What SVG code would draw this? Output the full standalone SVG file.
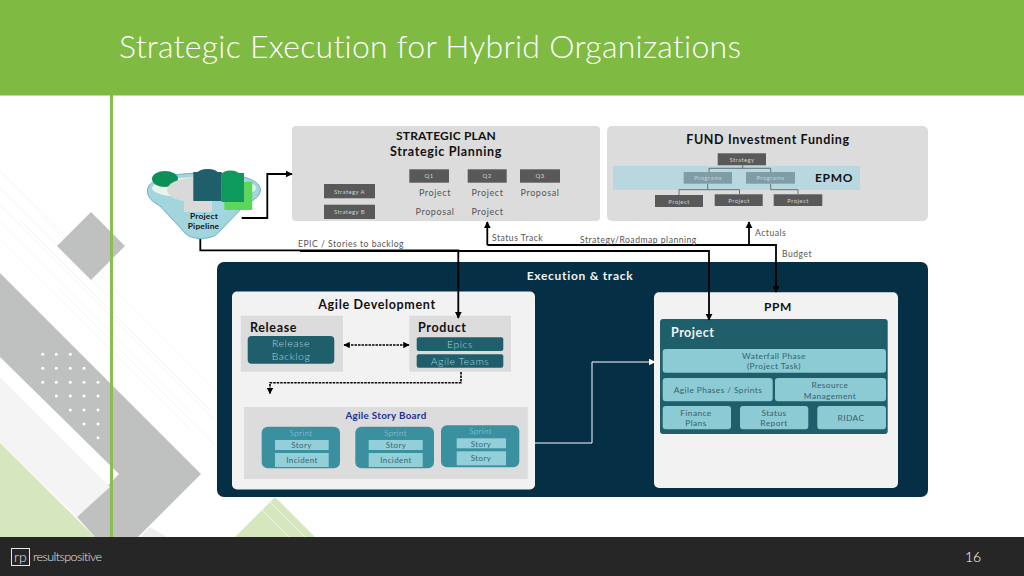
<svg xmlns="http://www.w3.org/2000/svg" width="1024" height="576" viewBox="0 0 1024 576">
<defs>
<style>
text{font-family:"Lato","Open Sans","Liberation Sans",sans-serif;font-variant-ligatures:none}
.m{text-anchor:middle}
.h{font-weight:700;fill:#111;letter-spacing:.65px}
.lbl{font-size:8.6px;fill:#555;letter-spacing:.5px}
.pl{fill:#dcdcdc}
.dk{fill:#595959}
.dkt{font-size:6px;fill:#cfcfcf;text-anchor:middle;letter-spacing:.4px}
.gt{font-size:9px;fill:#555;text-anchor:middle;letter-spacing:.6px}
.teal{fill:#1f5f6b}
.tt{fill:#a3d3da;text-anchor:middle;font-size:10.5px;letter-spacing:.5px;font-weight:300}
.sp{fill:#3a909f}
.in{fill:#92cfd9}
.spt{fill:#a9dae1;text-anchor:middle;font-size:8px;letter-spacing:.4px;font-weight:300}
.int{fill:#3a6670;text-anchor:middle;font-size:8px;letter-spacing:.4px}
.cell{fill:#8ccad4}
.ct{fill:#36646e;text-anchor:middle;font-size:8.4px;letter-spacing:.4px}
.c{fill:none;stroke:#000;stroke-width:1.8}
.d{fill:none;stroke:#000;stroke-width:1.6;stroke-dasharray:2.5 1}
.org{fill:none;stroke:#555;stroke-width:.8}
.dot{fill:#fff}
.st{stroke:#f4f4f4;stroke-width:1;fill:none}
</style>
<marker id="a" viewBox="0 0 10 10" refX="9" refY="5" markerWidth="4" markerHeight="4" orient="auto-start-reverse"><path d="M0 0L10 5L0 10z" fill="#000"/></marker>
<marker id="b" viewBox="0 0 10 10" refX="9" refY="5" markerWidth="4" markerHeight="4" orient="auto-start-reverse"><path d="M0 0L10 5L0 10z" fill="#000"/></marker>
<marker id="w" viewBox="0 0 10 10" refX="9" refY="5" markerWidth="7" markerHeight="7" orient="auto"><path d="M0 0L10 5L0 10z" fill="#fff"/></marker>
</defs>
<rect width="1024" height="576" fill="#fff"/>
<g id="background">
<path class="st" d="M0 205L190 395M0 222L190 412M0 239L190 429M20 220L210 410M40 215L230 405M60 290L215 445M0 188L110 298M0 171L110 281M120 325L215 420"/>
<polygon points="91,212 125,246 91,280 57,246" fill="#bfc1c1"/>
<polygon points="0,273 201,474 138,537 95,537 77,517 119,474 0,357" fill="#bfc1c1"/>
<polygon points="0,377 110,487 77,517 0,443" fill="#f4f4f4"/>
<polygon points="0,443 95,537 0,537" fill="#d7e7bd"/>
<polygon points="235,537 275,497 315,537" fill="#d7e7bd"/>
<path d="M262 510L289 537M270 502L305 537" stroke="#eef5e3" stroke-width="1" fill="none"/>
<polygon points="140,537 150,527 167,537" fill="#efefef"/>
<g class="dot">
<circle cx="42.7" cy="354.3" r="1.5"/><circle cx="56.3" cy="354.3" r="1.5"/><circle cx="70.3" cy="354.3" r="1.5"/>
<circle cx="42.7" cy="368.3" r="1.5"/><circle cx="56.3" cy="368.3" r="1.5"/><circle cx="70.3" cy="368.3" r="1.5"/><circle cx="84" cy="368.3" r="1.5"/>
<circle cx="42.7" cy="382.3" r="1.5"/><circle cx="56.3" cy="382.3" r="1.5"/><circle cx="70.3" cy="382.3" r="1.5"/><circle cx="84" cy="382.3" r="1.5"/><circle cx="98" cy="382.3" r="1.5"/>
<circle cx="56.3" cy="396" r="1.5"/><circle cx="70.3" cy="396" r="1.5"/><circle cx="84" cy="396" r="1.5"/><circle cx="98" cy="396" r="1.5"/>
<circle cx="70.3" cy="410" r="1.5"/><circle cx="84" cy="410" r="1.5"/><circle cx="98" cy="410" r="1.5"/>
<circle cx="84" cy="424" r="1.5"/><circle cx="98" cy="424" r="1.5"/>
<circle cx="98" cy="437.7" r="1.5"/>
</g>
<rect x="110" y="95" width="3" height="442" fill="#8cbd52"/>
</g>
<g id="header">
<rect width="1024" height="95.500" fill="#7fba42"/>
<text x="119" y="58" font-size="32" fill="#fff" textLength="622" style="font-weight:300">Strategic Execution for Hybrid Organizations</text>
</g>
<g id="footer">
<rect y="537" width="1024" height="39" fill="#262626"/>
<rect x="11.500" y="548.500" width="18" height="17" fill="none" stroke="#e8e8e8" stroke-width="1"/>
<text x="14" y="562" font-size="14" fill="#e8e8e8" style="font-weight:300">rp</text>
<text x="33" y="561" font-size="12.500" fill="#e8e8e8" textLength="69" style="font-weight:300">resultspositive</text>
<text x="973" y="562" font-size="14" fill="#fff" class="m" style="font-weight:300">16</text>
</g>
<g id="pipeline">
<path d="M147.500 190C148 178 175 173 204 173C235 173 260 178 260.500 190C260 198 250 202 245 205L217 234C210 240 192 240 186 234L160 206C153 202 147 198 147.500 190Z" fill="#a3d5de" stroke="#72b2be" stroke-width="1"/>
<ellipse cx="204" cy="188" rx="52" ry="11" fill="#e6f4ec"/>
<ellipse cx="165" cy="179" rx="13" ry="8" fill="#0e8f5a"/>
<ellipse cx="193" cy="190" rx="26" ry="12" fill="#d9d9d9"/>
<rect x="184" y="184" width="28" height="28" fill="#d9d9d9"/>
<rect x="224.300" y="181.700" width="28" height="28.300" fill="#5cd65c"/>
<ellipse cx="207.700" cy="174" rx="11" ry="5" fill="#1f5f6b"/>
<rect x="193.300" y="172" width="28.400" height="29" fill="#1f5f6b"/>
<ellipse cx="230.500" cy="175" rx="9" ry="4.500" fill="#0e9a5a"/>
<rect x="221.700" y="173" width="22.300" height="29" fill="#0e9a5a"/>
<text x="204" y="218.500" font-size="8.400" class="m h" style="letter-spacing:.2px">Project</text>
<text x="203.500" y="229" font-size="8.400" class="m h" style="letter-spacing:.2px">Pipeline</text>
</g>
<g id="strategic-plan">
<rect class="pl" x="292" y="126" width="308" height="95" rx="4"/>
<text x="446" y="140" font-size="12" class="m h" style="letter-spacing:.2px">STRATEGIC PLAN</text>
<text x="446" y="155.500" font-size="12.500" class="m h">Strategic Planning</text>
<rect class="dk" x="409.300" y="169.300" width="39.700" height="13.400"/><text class="dkt" x="429" y="178">Q1</text>
<rect class="dk" x="467.700" y="169.300" width="39" height="13.400"/><text class="dkt" x="487" y="178">Q2</text>
<rect class="dk" x="520" y="169.300" width="40" height="13.400"/><text class="dkt" x="540" y="178">Q3</text>
<rect class="dk" x="324" y="184" width="51" height="14.300"/><text class="dkt" x="349.500" y="193.500">Strategy A</text>
<rect class="dk" x="324" y="204.700" width="51" height="14.300"/><text class="dkt" x="349.500" y="214">Strategy B</text>
<text class="gt" x="435" y="196">Project</text><text class="gt" x="487.500" y="196">Project</text><text class="gt" x="540" y="196">Proposal</text>
<text class="gt" x="435" y="215">Proposal</text><text class="gt" x="487.500" y="215">Project</text>
</g>
<g id="fund">
<rect class="pl" x="607" y="126" width="321" height="95" rx="5"/>
<text x="768" y="144" font-size="12.500" class="m h">FUND Investment Funding</text>
<rect x="613" y="166" width="247" height="24" fill="#b9d7df"/>
<path class="org" d="M742.700 165V168.300M709 172V168.300H770.700V172M707.700 184V189.700M679 195V189.700H739.500V194M770.700 184V189.700H798V194"/>
<rect class="dk" x="717.700" y="153.300" width="48.300" height="12"/><text class="dkt" x="742" y="161.500">Strategy</text>
<rect x="683.700" y="172" width="48.300" height="11.700" fill="#7f9da6"/><text class="dkt" x="708" y="180">Programs</text>
<rect x="746" y="172" width="49" height="11.700" fill="#7f9da6"/><text class="dkt" x="770.500" y="180">Programs</text>
<text x="834" y="182" font-size="12" class="m h">EPMO</text>
<rect class="dk" x="655" y="195" width="48" height="12"/><text class="dkt" x="679" y="203.500">Project</text>
<rect class="dk" x="714.700" y="194.300" width="48" height="11.700"/><text class="dkt" x="739" y="202.500">Project</text>
<rect class="dk" x="773.700" y="194.300" width="48.600" height="11.700"/><text class="dkt" x="798" y="202.500">Project</text>
</g>
<g id="execution">
<rect x="217" y="262" width="711" height="235" rx="7" fill="#042f45"/>
<text x="580" y="280" font-size="12" fill="#f2f2f2" class="m" style="font-weight:700;letter-spacing:.7px">Execution &amp; track</text>
</g>
<g id="agile">
<rect x="232" y="291.500" width="303" height="198" rx="5" fill="#f2f2f2"/>
<text x="377" y="309" font-size="12.500" class="m h">Agile Development</text>
</g>
<g id="release">
<rect class="pl" x="240.700" y="315.700" width="102.300" height="56"/>
<text x="250" y="331.500" font-size="12.500" class="h">Release</text>
<rect class="teal" x="247.700" y="336" width="86.600" height="27.700" rx="4"/>
<text class="tt" x="291" y="347">Release</text><text class="tt" x="291" y="360">Backlog</text>
</g>
<g id="product">
<rect class="pl" x="409.300" y="315.700" width="101.700" height="56"/>
<text x="418" y="331.500" font-size="12.500" class="h">Product</text>
<rect class="teal" x="416.700" y="337.300" width="86.600" height="13.700" rx="2"/><text class="tt" x="460" y="348">Epics</text>
<rect class="teal" x="416.700" y="354.300" width="86.600" height="13.400" rx="2"/><text class="tt" x="460" y="365">Agile Teams</text>
</g>
<g id="story-board">
<rect x="244" y="407" width="283.700" height="72" fill="#dcdcdc"/>
<text x="386" y="418.500" font-size="9.800" class="m" fill="#1f2f8f" style="font-weight:700;letter-spacing:.3px">Agile Story Board</text>
<rect class="sp" x="261.700" y="426.700" width="78.300" height="41.600" rx="6"/>
<text class="spt" x="301" y="435.500">Sprint</text>
<rect class="in" x="275" y="440" width="53.700" height="10"/><text class="int" x="301.500" y="448">Story</text>
<rect class="in" x="275" y="453" width="53.700" height="14"/><text class="int" x="302" y="463">Incident</text>
<rect class="sp" x="355.300" y="426.700" width="78.700" height="41.600" rx="6"/>
<text class="spt" x="395.500" y="435.500">Sprint</text>
<rect class="in" x="368.700" y="440" width="54" height="10"/><text class="int" x="396" y="448">Story</text>
<rect class="in" x="368.700" y="453" width="54" height="14"/><text class="int" x="396" y="463">Incident</text>
<rect class="sp" x="441" y="425.300" width="78.300" height="42" rx="6"/>
<text class="spt" x="480.500" y="434">Sprint</text>
<rect class="in" x="456.700" y="438.300" width="49.300" height="10"/><text class="int" x="481" y="446.500">Story</text>
<rect class="in" x="456.700" y="451.300" width="49.300" height="14"/><text class="int" x="481" y="461">Story</text>
</g>
<g id="ppm">
<rect x="654" y="292.300" width="244" height="195.700" rx="5" fill="#f2f2f2"/>
<text x="778" y="311" font-size="12" class="m h">PPM</text>
<rect class="teal" x="660" y="319" width="227.700" height="115" rx="3"/>
<text x="671" y="337" font-size="12.500" fill="#f2f2f2" style="font-weight:700;letter-spacing:.5px">Project</text>
<rect class="cell" x="662.700" y="349" width="223.300" height="23.700" rx="3"/>
<text class="ct" x="774" y="359">Waterfall Phase</text><text class="ct" x="774" y="369">(Project Task)</text>
<rect class="cell" x="662.700" y="378" width="110" height="23.300" rx="3"/>
<text class="ct" x="718" y="393">Agile Phases / Sprints</text>
<rect class="cell" x="775" y="378" width="111" height="23.300" rx="3"/>
<text class="ct" x="830" y="388">Resource</text><text class="ct" x="830" y="399">Management</text>
<rect class="cell" x="662.700" y="406" width="68.300" height="23.300" rx="3"/>
<text class="ct" x="696" y="416">Finance</text><text class="ct" x="696" y="426">Plans</text>
<rect class="cell" x="740" y="406" width="68.300" height="23.300" rx="3"/>
<text class="ct" x="774" y="416">Status</text><text class="ct" x="774" y="426">Report</text>
<rect class="cell" x="817.300" y="406" width="68.700" height="23.300" rx="3"/>
<text class="ct" x="851" y="421">RIDAC</text>
</g>
<g id="connectors">
<path class="c" d="M241.700 218H267.300V174H292" marker-end="url(#a)"/>
<path class="c" d="M200.300 239V250.300H458.300V318" marker-end="url(#a)"/>
<path class="c" d="M300 251H709V320" marker-end="url(#a)"/>
<path class="c" d="M487.300 245V222" marker-end="url(#a)"/>
<path class="c" d="M487.300 245H776V292" marker-end="url(#b)"/>
<path class="c" d="M749 245V222" marker-end="url(#a)"/>
<path class="d" d="M344 345H409" marker-start="url(#b)" marker-end="url(#b)"/>
<path class="d" d="M461 372V382.700H270V393.500" marker-end="url(#b)"/>
<path d="M535 443H592V362H655" fill="none" stroke="#fff" stroke-width="1" marker-end="url(#w)"/>
</g>
<g id="connector-labels">
<text class="lbl" x="351" y="247" text-anchor="middle">EPIC / Stories to backlog</text>
<text class="lbl" x="492" y="241">Status Track</text>
<text class="lbl" x="580" y="243">Strategy/Roadmap planning</text>
<text class="lbl" x="755" y="236">Actuals</text>
<text class="lbl" x="782" y="257">Budget</text>
</g>
</svg>
